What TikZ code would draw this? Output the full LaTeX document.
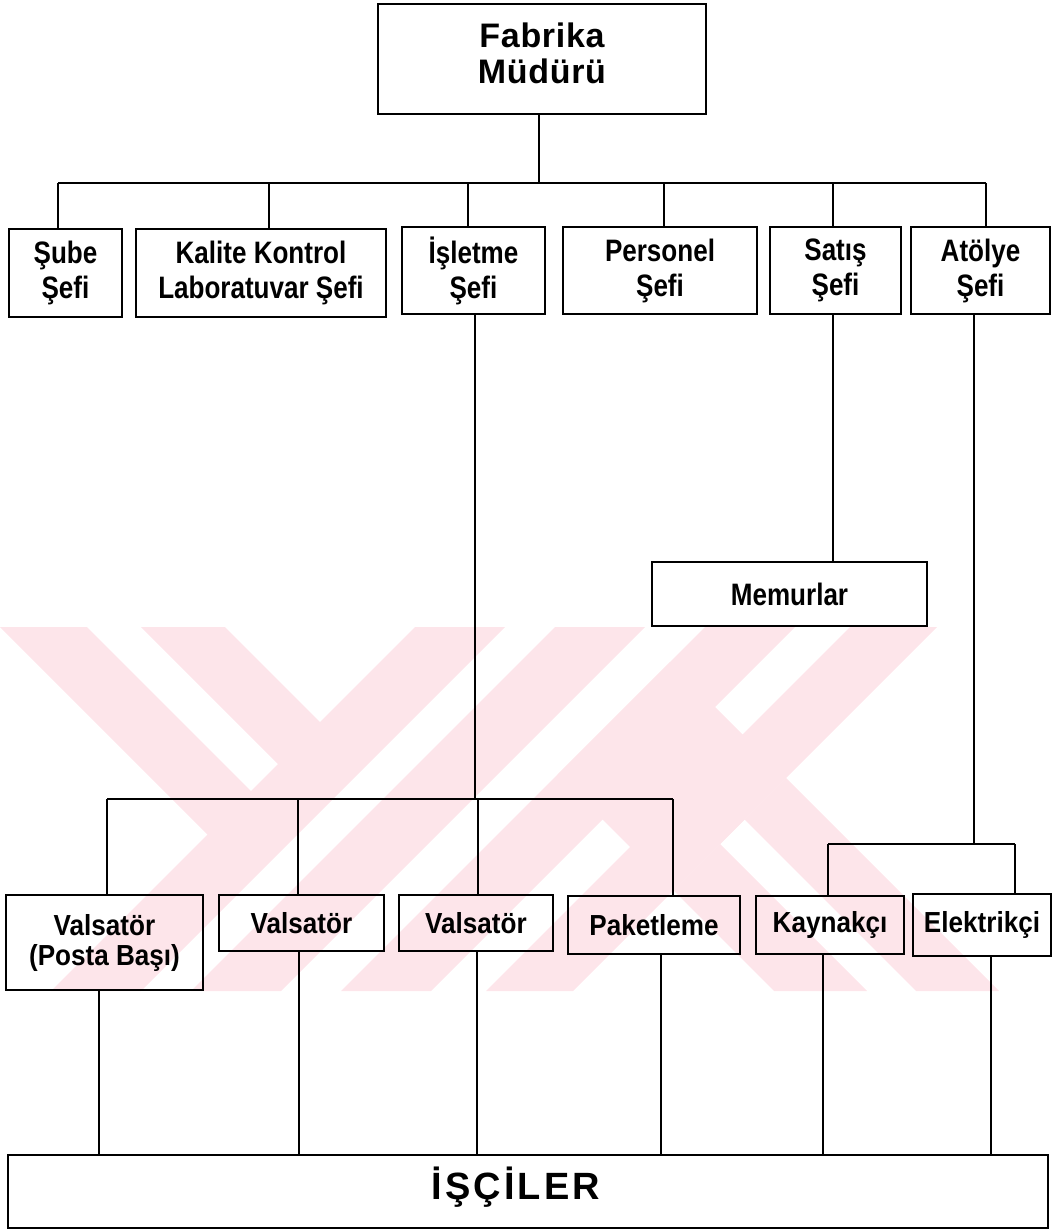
\documentclass[tikz,border=0pt]{standalone}
\usepackage{fontspec}
\setmainfont{Liberation Sans}
\newfontfamily\nfont[FakeStretch=0.84]{Liberation Sans}
\newfontfamily\mfont[FakeStretch=0.9]{Liberation Sans}
\newfontfamily\wfont[LetterSpace=2]{Liberation Sans}
\newfontfamily\xfont[LetterSpace=8]{Liberation Sans}
\definecolor{wm}{RGB}{253,229,234}
\begin{document}
\begin{tikzpicture}[x=1pt,y=-1pt,
  box/.style={draw,line width=2pt,inner sep=0pt,outer sep=0pt,align=center},
  lvtwo/.style={box,minimum height=88pt,font=\nfont\bfseries\fontsize{31}{35}\selectfont},
  lvthree/.style={box,font=\mfont\bfseries\fontsize{29}{30}\selectfont},
  conn/.style={line width=1.5pt},
  wmark/.style={fill=wm,draw=none}]
\useasboundingbox (0,0) rectangle (1053,1230);

% watermark
\begin{scope}
\clip (0,627) rectangle (1053,991);
% "/" stripes
\fill[wmark] (415,627) -- (505,627) -- (141,991) -- (51,991) -- cycle;
\fill[wmark] (555,627) -- (645,627) -- (281,991) -- (191,991) -- cycle;
\fill[wmark] (705,627) -- (795,627) -- (431,991) -- (341,991) -- cycle;
\fill[wmark] (850,627) -- (937,627) -- (573,991) -- (486,991) -- cycle;
% "\" stripes (upper left)
\fill[wmark] (0,627) -- (87,627) -- (273.5,813.5) -- (230,857) -- cycle;
\fill[wmark] (141,627) -- (225,627) -- (342.5,744.5) -- (300.5,786.5) -- cycle;
% "\" band and stripes (lower right)
\fill[wmark] (557.5,774.5) -- (670,662) -- (786,778) -- (673.5,890.5) -- cycle;
\fill[wmark] (673.5,890.5) -- (720,844) -- (867,991) -- (774,991) -- cycle;
\fill[wmark] (744.5,819.5) -- (786,778) -- (999,991) -- (916,991) -- cycle;
\end{scope}

% nodes
\node[box,minimum width=328pt,minimum height=110pt,
  label={[yshift=6pt,align=center,font=\wfont\bfseries\fontsize{34}{36}\selectfont]center:Fabrika\\Müdürü}] (fab) at (542,59) {};

\node[lvtwo,minimum width=113pt] (sube) at (65.5,273) {Şube\\Şefi};
\node[lvtwo,minimum width=250pt] (kalite) at (261,273) {Kalite Kontrol\\Laboratuvar Şefi};
\node[lvtwo,minimum width=143pt,minimum height=87pt] (isl) at (473.5,270.5) {İşletme\\Şefi};
\node[lvtwo,minimum width=194pt,minimum height=87pt] (pers) at (660,270.5) {Personel\\Şefi};
\node[lvtwo,minimum width=131pt,minimum height=87pt] (satis) at (835.5,270.5) {Satış\\Şefi};
\node[lvtwo,minimum width=139pt,minimum height=87pt] (atol) at (980.5,270.5) {Atölye\\Şefi};

\node[lvtwo,minimum width=275pt,minimum height=64pt] (mem) at (789.5,594) {Memurlar};

\node[lvthree,minimum width=197pt,minimum height=95pt] (vpb) at (104.5,942.5) {Valsatör\\(Posta Başı)};
\node[lvthree,minimum width=165pt,minimum height=56pt] (v2) at (301.5,923) {Valsatör};
\node[lvthree,minimum width=154pt,minimum height=56pt] (v3) at (476,923) {Valsatör};
\node[lvthree,minimum width=172pt,minimum height=58pt] (pak) at (654,925) {Paketleme};
\node[lvthree,minimum width=148pt,minimum height=58pt] (kay) at (830,925) {Kaynakçı};
\node[lvthree,minimum width=138pt,minimum height=62pt] (elk) at (982,925) {Elektrikçi};

\node[box,minimum width=1040pt,minimum height=73pt,
  label={[xshift=-12pt,yshift=4pt,font=\xfont\bfseries\fontsize{38}{40}\selectfont]center:İŞÇİLER}] (isc) at (528,1191.5) {};

% level 1 -> level 2
\coordinate (t0) at (539,183);
\coordinate (bS) at (58,183);
\coordinate (bK) at (269,183);
\coordinate (bI) at (468,183);
\coordinate (bP) at (664,183);
\coordinate (bSa) at (833,183);
\coordinate (bA) at (986,183);
\draw[conn] (t0 |- fab.south) -- (t0);
\draw[conn] (bS) -- (bA);
\draw[conn] (bS) -- (bS |- sube.north);
\draw[conn] (bK) -- (bK |- kalite.north);
\draw[conn] (bI) -- (bI |- isl.north);
\draw[conn] (bP) -- (bP |- pers.north);
\draw[conn] (bSa) -- (bSa |- satis.north);
\draw[conn] (bA) -- (bA |- atol.north);

% İşletme -> workers
\coordinate (c0) at (475,799);
\coordinate (c1) at (107,799);
\coordinate (c2) at (298,799);
\coordinate (c3) at (478,799);
\coordinate (c4) at (673,799);
\draw[conn] (c0 |- isl.south) -- (c0);
\draw[conn] (c1) -- (c4);
\draw[conn] (c1) -- (c1 |- vpb.north);
\draw[conn] (c2) -- (c2 |- v2.north);
\draw[conn] (c3) -- (c3 |- v3.north);
\draw[conn] (c4) -- (c4 |- pak.north);

% Satış -> Memurlar
\coordinate (m0) at (833,450);
\draw[conn] (m0 |- satis.south) -- (m0 |- mem.north);

% Atölye -> Kaynakçı, Elektrikçi
\coordinate (d0) at (974,844);
\coordinate (d1) at (828,844);
\coordinate (d2) at (1015,844);
\draw[conn] (d0 |- atol.south) -- (d0);
\draw[conn] (d1) -- (d2);
\draw[conn] (d1) -- (d1 |- kay.north);
\draw[conn] (d2) -- (d2 |- elk.north);

% level 3 -> İŞÇİLER
\coordinate (e1) at (99,1100);
\coordinate (e2) at (299,1100);
\coordinate (e3) at (477,1100);
\coordinate (e4) at (661,1100);
\coordinate (e5) at (823,1100);
\coordinate (e6) at (991,1100);
\draw[conn] (e1 |- vpb.south) -- (e1 |- isc.north);
\draw[conn] (e2 |- v2.south) -- (e2 |- isc.north);
\draw[conn] (e3 |- v3.south) -- (e3 |- isc.north);
\draw[conn] (e4 |- pak.south) -- (e4 |- isc.north);
\draw[conn] (e5 |- kay.south) -- (e5 |- isc.north);
\draw[conn] (e6 |- elk.south) -- (e6 |- isc.north);
\end{tikzpicture}
\end{document}
